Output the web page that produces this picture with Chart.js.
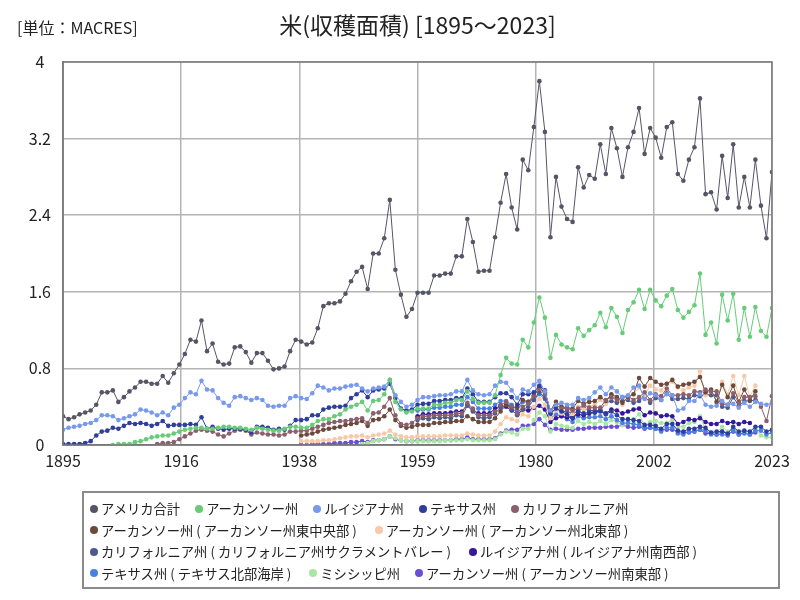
<!DOCTYPE html>
<html><head><meta charset="utf-8">
<script src="https://cdn.jsdelivr.net/npm/chart.js@4/dist/chart.umd.min.js"></script>
<style>
body{margin:0;background:#fff;}
#wrap{position:relative;width:800px;height:600px;font-family:"Noto Sans CJK JP",sans-serif;color:#222;}
#title{position:absolute;left:63px;width:709px;top:7px;text-align:center;font-size:23px;}
#unit{position:absolute;left:17px;top:15px;font-size:16px;}
#legend{position:absolute;left:82px;top:491px;width:698px;height:98px;border:2px solid #8a8a8a;box-sizing:border-box;padding:5px 0 0 6px;font-size:13.3px;}
.row{display:flex;height:21.5px;align-items:center;white-space:nowrap;}
.item{display:flex;align-items:center;margin-right:15px;}
.dot{width:8px;height:8px;border-radius:50%;margin-right:3px;}
.p{padding:0 3px;}
</style></head>
<body><div id="wrap"><canvas id="c" width="800" height="600"></canvas>
<div id="title">米(収穫面積) [1895～2023]</div>
<div id="unit">[単位：MACRES]</div>
<div id="legend"></div></div>
<script>
const firstYear = 1895, lastYear = 2023;
const xTickLabels = ['1895','1916','1938','1959','1980','2002','2023'];
const yTicks = [0,0.8,1.6,2.4,3.2,4];

const usTotal = [0.30,0.27,0.29,0.32,0.34,0.36,0.42,0.55,0.55,0.57,
0.45,0.50,0.56,0.60,0.66,0.66,0.64,0.64,0.72,0.65,
0.75,0.84,0.95,1.10,1.08,1.30,0.98,1.06,0.87,0.84,
0.85,1.02,1.03,0.97,0.86,0.96,0.96,0.88,0.79,0.80,
0.82,0.98,1.10,1.08,1.05,
1.07,1.22,1.45,1.48,1.48,1.50,1.58,1.71,1.81,1.86,
1.63,2.00,2.00,2.16,2.56,1.83,1.57,1.34,1.42,1.59,
1.59,1.59,1.77,1.77,1.79,1.79,1.97,1.97,2.36,2.12,
1.81,1.82,1.82,2.17,2.53,2.83,2.48,2.25,2.98,2.87,
3.32,3.80,3.27,2.17,2.80,2.49,2.36,2.33,2.90,2.69,
2.82,2.78,3.14,2.83,3.31,3.10,2.80,3.11,3.27,3.52,
3.04,3.31,3.21,3.00,3.32,3.37,2.83,2.76,2.98,3.11,
3.62,2.62,2.64,2.46,3.02,2.58,3.14,2.48,2.80,2.48,
2.98,2.50,2.16,2.85];

const arkansasStart = 1904;
const arkansas = [0.00,0.01,0.01,0.01,0.03,0.04,0.06,0.08,0.09,0.10,
0.10,0.12,0.14,0.16,0.17,0.18,0.18,0.17,0.17,0.18,
0.19,0.19,0.18,0.18,0.17,0.16,0.18,0.17,0.16,0.15,
0.15,0.17,0.19,0.19,0.18,0.18,
0.21,0.25,0.27,0.27,0.30,0.32,0.37,0.40,0.42,0.45,
0.36,0.46,0.47,0.53,0.68,0.45,0.37,0.34,0.35,0.38,
0.38,0.38,0.42,0.42,0.44,0.44,0.47,0.47,0.56,0.48,
0.44,0.44,0.44,0.52,0.73,0.91,0.85,0.84,1.10,1.02,
1.28,1.54,1.33,0.91,1.15,1.05,1.02,1.00,1.22,1.14,
1.20,1.25,1.38,1.23,1.43,1.34,1.17,1.41,1.49,1.62,
1.42,1.62,1.51,1.45,1.56,1.63,1.41,1.33,1.39,1.46,
1.79,1.15,1.28,1.06,1.57,1.30,1.58,1.10,1.43,1.13,
1.44,1.19,1.13,1.43];

const louisiana = [0.16,0.18,0.19,0.20,0.22,0.23,0.26,0.31,0.31,0.30,
0.26,0.28,0.30,0.32,0.37,0.36,0.34,0.31,0.34,0.31,
0.39,0.42,0.49,0.55,0.53,0.67,0.58,0.57,0.49,0.44,
0.41,0.50,0.51,0.49,0.47,0.49,0.47,0.41,0.40,0.41,
0.41,0.49,0.51,0.49,0.48,
0.54,0.62,0.60,0.57,0.59,0.59,0.61,0.62,0.63,0.59,
0.56,0.59,0.60,0.61,0.68,0.52,0.45,0.40,0.42,
0.47,0.50,0.50,0.51,0.52,0.52,0.53,0.56,0.56,0.68,
0.57,0.53,0.52,0.53,0.62,0.66,0.65,0.57,0.49,0.58,
0.56,0.63,0.67,0.56,0.36,
0.42,0.44,0.42,0.42,0.49,0.47,0.49,0.55,0.60,0.53,
0.60,0.56,0.50,0.52,0.60,0.62,0.48,0.54,0.52,0.47,
0.53,0.52,0.36,0.38,0.46,0.46,0.53,0.42,0.40,0.41,
0.46,0.42,0.43,0.39,0.44,0.40,0.45,0.43,0.42,0.44];

const texas = [0.01,0.01,0.01,0.01,0.02,0.04,0.10,0.14,0.15,0.18,
0.17,0.20,0.23,0.22,0.23,0.22,0.20,0.22,0.25,0.20,
0.21,0.21,0.21,0.22,0.21,0.29,0.17,0.19,0.17,0.16,
0.17,0.17,0.17,0.16,0.13,0.19,0.19,0.18,0.16,0.17,
0.16,0.20,0.26,0.26,0.27,
0.31,0.31,0.37,0.39,0.40,0.40,0.41,0.49,0.53,0.57,
0.50,0.57,0.58,0.59,0.64,0.49,0.38,0.36,0.37,
0.42,0.43,0.43,0.46,0.46,0.47,0.47,0.49,0.49,0.59,
0.53,0.45,0.45,0.45,0.50,0.54,0.54,0.50,0.42,0.53,
0.53,0.55,0.62,0.57,0.33,
0.38,0.35,0.32,0.28,0.35,0.33,0.34,0.34,0.35,0.32,
0.35,0.31,0.27,0.27,0.26,0.25,0.21,0.21,0.20,0.17,
0.22,0.22,0.15,0.14,0.17,0.17,0.19,0.18,0.13,0.14,
0.14,0.12,0.19,0.14,0.15,0.14,0.19,0.19,0.14,0.16];

const californiaStart = 1912;
const california = [0.01,0.02,0.02,0.03,0.06,0.09,0.12,0.15,0.16,0.15,
0.14,0.11,0.09,0.12,0.15,0.16,0.15,0.11,0.13,0.12,
0.11,0.11,0.10,0.11,0.14,0.14,0.15,0.15,
0.17,0.19,0.21,0.23,0.24,0.25,0.25,0.26,0.27,0.28,
0.23,0.33,0.34,0.40,0.49,0.31,0.22,0.21,0.23,
0.28,0.30,0.30,0.31,0.31,0.31,0.31,0.33,0.33,0.44,
0.38,0.31,0.31,0.31,0.35,0.42,0.45,0.40,0.33,0.40,
0.43,0.51,0.60,0.53,0.35,
0.42,0.38,0.38,0.36,0.38,0.42,0.39,0.39,0.39,0.47,
0.50,0.47,0.50,0.51,0.47,0.50,0.55,0.47,0.53,0.51,
0.59,0.52,0.52,0.53,0.52,0.56,0.55,0.58,0.56,0.56,
0.43,0.42,0.54,0.44,0.50,0.50,0.51,0.40,0.25,0.51];

const districtStart = 1938;
const arEastCentral = [0.10,0.11,0.12,0.14,0.16,0.17,0.18,0.19,0.21,0.22,
0.23,0.25,0.20,0.26,0.27,0.30,0.37,0.26,0.20,0.18,
0.19,
0.21,0.21,0.21,0.23,0.23,0.24,0.24,0.25,0.25,0.30,
0.27,0.24,0.24,0.24,0.28,0.35,0.42,0.40,0.39,0.47,
0.45,0.52,0.60,0.55,0.36,
0.45,0.40,0.39,0.38,0.46,0.43,0.45,0.46,0.50,0.46,
0.53,0.50,0.44,0.50,0.53,0.70,0.61,0.70,0.66,0.63,
0.64,0.68,0.61,0.63,0.64,0.66,0.71,0.55,0.58,0.45,
0.63,0.50,0.62,0.45,0.58,0.47,0.56];

const arNortheast = [0.04,0.04,0.04,0.04,0.05,0.05,0.06,0.07,0.08,0.09,
0.09,0.10,0.08,0.10,0.11,0.12,0.15,0.11,0.09,0.08,
0.08,
0.09,0.09,0.09,0.09,0.09,0.10,0.10,0.10,0.10,0.12,
0.11,0.10,0.10,0.10,0.14,0.22,0.29,0.27,0.25,0.32,
0.30,0.40,0.48,0.42,0.28,
0.36,0.33,0.32,0.32,0.40,0.37,0.40,0.42,0.47,0.43,
0.50,0.48,0.42,0.50,0.53,0.60,0.52,0.62,0.58,0.57,
0.64,0.66,0.60,0.57,0.60,0.62,0.77,0.52,0.57,0.45,
0.66,0.53,0.72,0.52,0.72,0.50,0.62];

const arSoutheast = [0.00,0.00,0.01,0.01,0.01,0.01,0.02,0.02,0.02,0.03,
0.03,0.04,0.03,0.05,0.05,0.06,0.09,0.06,0.05,0.04,
0.04,
0.05,0.05,0.05,0.05,0.05,0.05,0.05,0.06,0.06,0.08,
0.06,0.06,0.06,0.06,0.07,0.12,0.15,0.16,0.16,0.20,
0.20,0.22,0.27,0.21,0.16,
0.17,0.16,0.16,0.16,0.17,0.17,0.18,0.18,0.18,0.19,
0.19,0.19,0.21,0.19,0.18,0.19,0.17,0.18,0.17,0.16,
0.16,0.16,0.14,0.13,0.13,0.14,0.16,0.12,0.12,0.11,
0.14,0.12,0.14,0.11,0.13,0.11,0.13];

const subStart = 1959;
const caSacramento = [0.26,0.28,0.27,0.29,0.28,0.29,0.28,0.31,0.30,0.41,
0.35,0.29,0.28,0.29,0.33,0.39,0.42,0.37,0.31,0.37,
0.40,0.47,0.55,0.49,0.32,
0.39,0.35,0.35,0.33,0.35,0.39,0.36,0.36,0.36,0.44,
0.46,0.44,0.46,0.47,0.44,0.46,0.51,0.44,0.49,0.47,
0.54,0.48,0.48,0.49,0.48,0.52,0.51,0.53,0.52,0.52,
0.40,0.39,0.50,0.41,0.46,0.46,0.47];

const laSouthwest = [0.30,0.32,0.32,0.33,0.33,0.33,0.34,0.35,0.35,0.42,
0.36,0.33,0.33,0.33,0.38,0.41,0.40,0.36,0.32,0.37,
0.36,0.39,0.41,0.37,0.24,
0.28,0.30,0.29,0.29,0.32,0.31,0.33,0.34,0.36,0.33,
0.37,0.36,0.33,0.35,0.37,0.38,0.31,0.34,0.33,0.30,
0.31,0.30,0.22,0.24,0.27,0.26,0.28,0.24,0.22,0.22,
0.25,0.23,0.24,0.22,0.24,0.23];

const txNorthCoast = [0.36,0.37,0.37,0.39,0.39,0.40,0.40,0.42,0.42,0.50,
0.45,0.38,0.38,0.38,0.42,0.46,0.46,0.42,0.36,0.45,
0.45,0.47,0.53,0.48,0.28,
0.32,0.30,0.27,0.24,0.30,0.28,0.29,0.29,0.30,0.27,
0.30,0.26,0.23,0.23,0.22,0.21,0.18,0.18,0.17,0.14,
0.18,0.18,0.12,0.11,0.14,0.14,0.16,0.15,0.11,0.11,
0.11,0.10,0.15,0.11,0.12,0.11,0.15,0.15,0.11,0.13];

const mississippiStart = 1949;
const mississippi = [0.01,0.02,0.04,0.05,0.06,0.09,0.07,0.05,0.04,0.04,
0.04,0.04,0.04,0.04,0.04,0.05,0.05,0.05,0.05,0.06,
0.05,0.05,0.05,0.05,0.06,0.11,0.14,0.13,0.11,0.17,
0.17,0.26,0.34,0.30,0.14,
0.22,0.20,0.19,0.18,0.25,0.22,0.24,0.22,0.25,0.22,
0.26,0.24,0.21,0.23,0.27,0.32,0.20,0.24,0.25,0.23,
0.23,0.26,0.19,0.19,0.23,0.24,0.30,0.16,0.13,0.13,
0.19,0.14,0.19,0.12,0.14,0.11,0.16,0.10,0.08,0.08];

const seriesNames = ['アメリカ合計','アーカンソー州','ルイジアナ州','テキサス州','カリフォルニア州',
'アーカンソー州(アーカンソー州東中央部)','アーカンソー州(アーカンソー州北東部)',
'カリフォルニア州(カリフォルニア州サクラメントバレー)','ルイジアナ州(ルイジアナ州南西部)',
'テキサス州(テキサス北部海岸)','ミシシッピ州','アーカンソー州(アーカンソー州南東部)'];
const seriesColors = ['#555566','#66cc77','#7799ee','#2e3d9e','#8c5f6c','#6b4a3c','#f7c9a9',
'#4c5a8c','#33189c','#4a80e2','#a9e6a3','#6a4fd6'];
const seriesData = [[firstYear,usTotal],[arkansasStart,arkansas],[firstYear,louisiana],[firstYear,texas],
[californiaStart,california],[districtStart,arEastCentral],[districtStart,arNortheast],[subStart,caSacramento],
[subStart,laSouthwest],[subStart,txNorthCoast],[mississippiStart,mississippi],[districtStart,arSoutheast]];
const legendRows = [[0,1,2,3,4],[5,6],[7,8],[9,10,11]];

Chart.defaults.font.family = "'Noto Sans CJK JP', sans-serif";
const datasets = seriesData.map(([start, vals], k) => ({
  label: seriesNames[k],
  data: vals.map((v, i) => ({x: start + i, y: v})),
  borderColor: seriesColors[k],
  backgroundColor: seriesColors[k],
  pointBackgroundColor: seriesColors[k],
  pointBorderWidth: 0,
  pointRadius: 2.3,
  borderWidth: 1,
  tension: 0
}));

new Chart(document.getElementById('c'), {
  type: 'line',
  data: {datasets},
  options: {
    responsive: false, animation: false, devicePixelRatio: 1,
    layout: {padding: {left: 0, right: 28, top: 62, bottom: 125}},
    plugins: {legend: {display: false}, title: {display: false}, tooltip: {enabled: false}},
    scales: {
      x: {
        type: 'linear', min: firstYear, max: lastYear,
        afterFit: s => { s.height = 30; },
        afterBuildTicks: s => { s.ticks = xTickLabels.map((t, i) => ({value: firstYear + i * (lastYear - firstYear) / (xTickLabels.length - 1)})); },
        ticks: {autoSkip: false, maxRotation: 0, padding: 6, color: '#222', font: {size: 16},
          callback: (v, i) => xTickLabels[i]},
        grid: {color: '#b4b4b4', lineWidth: 1.5, drawTicks: false},
        border: {color: '#7a7a7a', width: 1.5}
      },
      y: {
        min: 0, max: 4,
        afterFit: s => { s.width = 63; },
        afterBuildTicks: s => { s.ticks = yTicks.map(v => ({value: v})); },
        ticks: {crossAlign: 'center', padding: 12, color: '#222', font: {size: 16},
          callback: v => String(+v.toFixed(1))},
        grid: {color: '#b4b4b4', lineWidth: 1.5, drawTicks: false},
        border: {color: '#7a7a7a', width: 1.5}
      }
    }
  },
  plugins: [{
    id: 'frame',
    afterDraw(chart) {
      const {ctx, chartArea: a} = chart;
      ctx.save(); ctx.strokeStyle = '#7a7a7a'; ctx.lineWidth = 1.5;
      ctx.strokeRect(a.left, a.top, a.right - a.left, a.bottom - a.top);
      ctx.restore();
    }
  }]
});

const leg = document.getElementById('legend');
legendRows.forEach(r => {
  const row = document.createElement('div'); row.className = 'row';
  r.forEach(k => {
    const it = document.createElement('div'); it.className = 'item';
    const d = document.createElement('span'); d.className = 'dot'; d.style.background = seriesColors[k];
    const t = document.createElement('span');
    seriesNames[k].split(/([()])/).forEach(part => {
      if (!part) return;
      const s = document.createElement('span');
      if (part === '(' || part === ')') s.className = 'p';
      s.textContent = part; t.appendChild(s);
    });
    it.appendChild(d); it.appendChild(t); row.appendChild(it);
  });
  leg.appendChild(row);
});
</script></body></html>
